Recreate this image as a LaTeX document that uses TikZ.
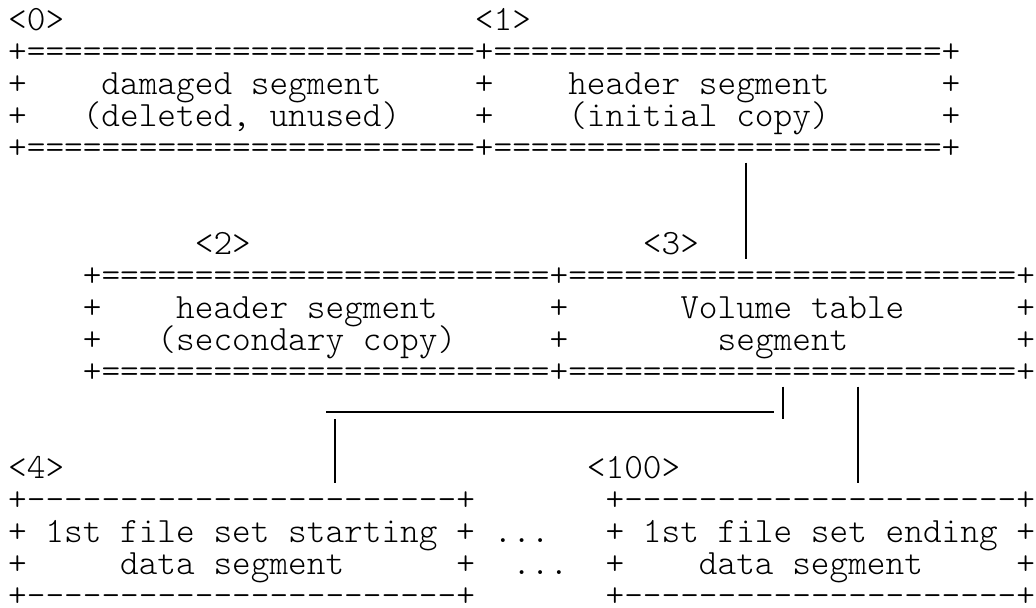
\documentclass[tikz,border=0pt]{standalone}
\usepackage{tikz}
\usetikzlibrary{calc}

\newcommand\asciifont{\fontsize{17.78pt}{16pt}\fontseries{l}\ttfamily}
\newlength\cw
\AtBeginDocument{\settowidth\cw{\asciifont 0}}
\ExplSyntaxOn
\NewDocumentCommand\eqrun{m}{\prg_replicate:nn{#1}{=}}
\NewDocumentCommand\dashrun{m}{\prg_replicate:nn{#1}{-\kern0pt}}
\ExplSyntaxOff

\begin{document}
\begin{tikzpicture}[
    x=\cw, y=-1.714\cw,
    row/.style={anchor=west, inner sep=0pt, outer sep=0pt, font=\asciifont, text height=1.25\cw, text depth=0.008\cw},
    wire/.style={line width=0.091\cw, black}
]
\useasboundingbox (-0.937,-0.584) rectangle (54.55,18.384);

% Segments 0 and 1
\node[row] (n0) at (-0.5,0) {<0>};
\node[row] (n1) at (24.5,0) {<1>};
\node[row] (damaged-top) at (-0.5,1) {+\eqrun{24}};
\node[row] (damaged-a) at (-0.5,2) {+~~~~damaged~segment};
\node[row] (damaged-b) at (-0.5,3) {+~~~(deleted,~unused)};
\node[row] (damaged-bot) at (-0.5,4) {+\eqrun{24}};
\node[row] (hdrinit-top) at (24.5,1) {+\eqrun{24}+};
\node[row] (hdrinit-a) at (24.5,2) {+~~~~header~segment~~~~~~+};
\node[row] (hdrinit-b) at (24.5,3) {+~~~~(initial~copy)~~~~~~+};
\node[row] (hdrinit-bot) at (24.5,4) {+\eqrun{24}+};

% Segments 2 and 3
\node[row] (n2) at (9.5,7) {<2>};
\node[row] (n3) at (33.5,7) {<3>};
\node[row] (hdrsec-top) at (3.5,8) {+\eqrun{24}};
\node[row] (hdrsec-a) at (3.5,9) {+~~~~header~segment};
\node[row] (hdrsec-b) at (3.5,10) {+~~~(secondary~copy)};
\node[row] (hdrsec-bot) at (3.5,11) {+\eqrun{24}};
\node[row] (voltab-top) at (28.5,8) {+\eqrun{24}+};
\node[row] (voltab-a) at (28.5,9) {+~~~~~~Volume~table~~~~~~+};
\node[row] (voltab-b) at (28.5,10) {+~~~~~~~~segment~~~~~~~~~+};
\node[row] (voltab-bot) at (28.5,11) {+\eqrun{24}+};

% Segments 4 ... 100
\node[row] (n4) at (-0.5,14) {<4>};
\node[row] (n100) at (30.5,14) {<100>};
\node[row] (setstart-top) at (-0.5,15) {+\dashrun{23}+};
\node[row] (setstart-a) at (-0.5,16) {+~1st~file~set~starting~+};
\node[row] (setstart-b) at (-0.5,17) {+~~~~~data~segment~~~~~~+};
\node[row] (setstart-bot) at (-0.5,18) {+\dashrun{23}+};
\node[row] (more-a) at (25.5,16) {...};
\node[row] (more-b) at (26.5,17) {...};
\node[row] (setend-top) at (31.5,15) {+\dashrun{21}+};
\node[row] (setend-a) at (31.5,16) {+~1st~file~set~ending~+};
\node[row] (setend-b) at (31.5,17) {+~~~~data~segment~~~~~+};
\node[row] (setend-bot) at (31.5,18) {+\dashrun{21}+};

% Links
\draw[wire] ($(hdrinit-bot.west -| 39,0)+(0,0.5)$) -- ($(voltab-top.west -| 39,0)+(0,-0.5)$);
\draw[wire] ($(voltab-bot.west -| 41,0)+(0,0.5)$) -- ++(0,1);
\draw[wire] ($(voltab-bot.west -| 40.5,0)+(0,1.28)$) -- ($(voltab-bot.west -| 16.5,0)+(0,1.28)$);
\draw[wire] ($(setstart-top.west -| 17,0)+(0,-0.5)$) -- ++(0,-2);
\draw[wire] ($(voltab-bot.west -| 45,0)+(0,0.5)$) -- ($(setend-top.west -| 45,0)+(0,-0.5)$);

\end{tikzpicture}
\end{document}
